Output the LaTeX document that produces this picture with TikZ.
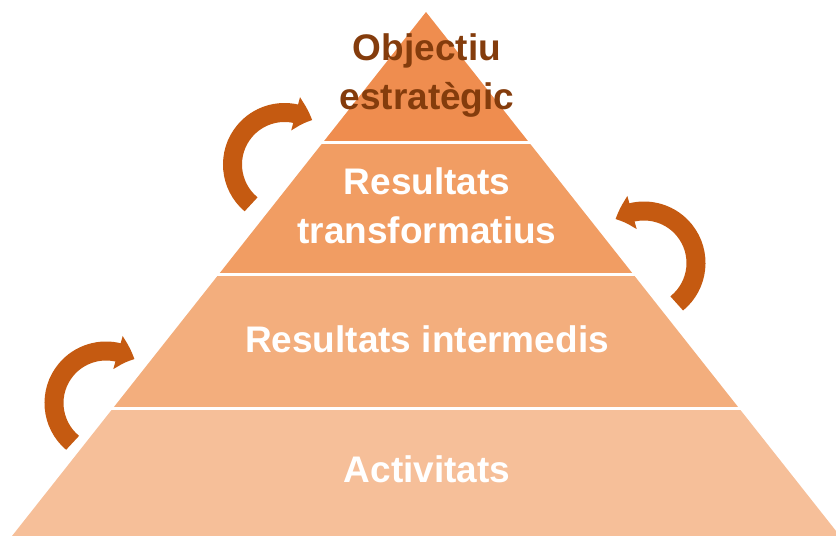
\documentclass[tikz,border=0pt]{standalone}
\usepackage{fontspec}
\setmainfont{Liberation Sans}
\usetikzlibrary{arrows.meta,bending}
\definecolor{layerA}{HTML}{EF8D4F}
\definecolor{layerB}{HTML}{F19D63}
\definecolor{layerC}{HTML}{F3AE7D}
\definecolor{layerD}{HTML}{F6BF99}
\definecolor{arrowc}{HTML}{C55A11}
\definecolor{toptext}{HTML}{843C0C}
\begin{document}
\begin{tikzpicture}[x=1pt,y=1pt,
  lbl/.style={font=\fontsize{37}{49.5}\selectfont\bfseries, text=white, inner sep=0pt, align=center, anchor=base},
  cyc/.style={line width=19pt, draw=arrowc, -{Triangle[width=33pt,length=18pt,bend]}}]
\useasboundingbox (0,0) rectangle (836,536);
\coordinate (apex) at (426,524);
\coordinate (bl) at (12,0);
\coordinate (br) at (840,0);
\begin{scope}
  \clip (0,0) rectangle (836,536);
  \clip (apex) -- (bl) -- (br) -- cycle;
  \fill[layerD] (0,0) rectangle (836,126);
  \fill[layerC] (0,129) rectangle (836,259.5);
  \fill[layerB] (0,262.5) rectangle (836,391.5);
  \fill[layerA] (0,394.5) rectangle (836,536);
\end{scope}
\node[lbl, text=toptext] (obj) at (427,426) {Objectiu\\estratègic};
\node[lbl] (trans) at (427,292) {Resultats\\transformatius};
\node[lbl] (inter) at (427,183) {Resultats intermedis};
\node[lbl] (act) at (427,53) {Activitats};
\coordinate (c1) at (284.5,371.5);
\coordinate (c2) at (644,273);
\coordinate (c3) at (106,133);
\draw[cyc] (c1) ++(230:52) arc[start angle=230, end angle=58, radius=52];
\draw[cyc] (c2) ++(-51:52) arc[start angle=-51, end angle=123, radius=52];
\draw[cyc] (c3) ++(230:52) arc[start angle=230, end angle=57, radius=52];
\end{tikzpicture}
\end{document}
